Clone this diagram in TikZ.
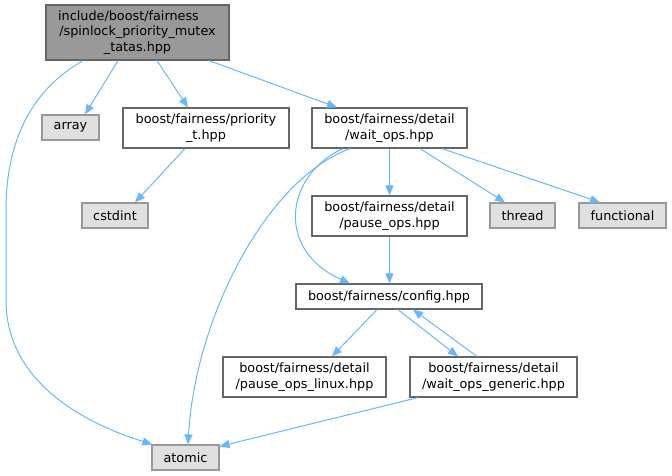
\documentclass[tikz,border=0pt]{standalone}
\usepackage{fontspec}
\setmainfont{DejaVu Sans}
\usetikzlibrary{arrows.meta}
\definecolor{edgeblue}{HTML}{63B8FF}
\definecolor{rootfill}{HTML}{999999}
\definecolor{rootdraw}{HTML}{666666}
\definecolor{sysfill}{HTML}{E0E0E0}
\definecolor{sysdraw}{HTML}{999999}
\definecolor{filedraw}{HTML}{666666}
\tikzset{
  box/.style={draw=filedraw, fill=white, line width=1.2pt, inner sep=0pt, align=center,
    font=\fontsize{12.8}{15.5}\selectfont},
  rootbox/.style={box, draw=rootdraw, fill=rootfill},
  sysbox/.style={box, draw=sysdraw, fill=sysfill},
  edge/.style={draw=edgeblue, line width=1pt, -{Triangle[length=10pt,width=8pt]}, fill=none},
}
\begin{document}
\begin{tikzpicture}[x=1pt,y=-1pt]
\useasboundingbox (0,0) rectangle (672,476);
\node[rootbox, minimum width=183pt, minimum height=55pt] (root) at (137.5,32.5)
  {include/boost/fairness\hspace*{18pt}\\/spinlock\_priority\_mutex\\\_tatas.hpp};
\node[sysbox, minimum width=57pt, minimum height=25pt] (array) at (70.5,127.5) {array};
\node[box, minimum width=166pt, minimum height=40pt] (prio) at (206,128)
  {boost/fairness/priority\\\_t.hpp};
\node[box, minimum width=155pt, minimum height=40pt] (wait) at (389.5,128)
  {boost/fairness/detail\\/wait\_ops.hpp};
\node[sysbox, minimum width=66pt, minimum height=25pt] (cstdint) at (115,215.5) {cstdint};
\node[box, minimum width=155pt, minimum height=40pt] (pause) at (389.5,216)
  {boost/fairness/detail\\/pause\_ops.hpp};
\node[sysbox, minimum width=65pt, minimum height=25pt] (thread) at (522.5,215.5) {thread};
\node[sysbox, minimum width=87pt, minimum height=25pt] (functional) at (622.5,215.5) {functional};
\node[box, minimum width=186pt, minimum height=25pt] (config) at (389,296.5)
  {boost/fairness/config.hpp};
\node[box, minimum width=163pt, minimum height=40pt] (linux) at (304.5,377)
  {boost/fairness/detail\\/pause\_ops\_linux.hpp};
\node[box, minimum width=167pt, minimum height=40pt] (generic) at (493.5,377)
  {boost/fairness/detail\\/wait\_ops\_generic.hpp};
\node[sysbox, minimum width=67pt, minimum height=25pt] (atomic) at (185.5,457.5) {atomic};

\draw[edge] ([xshift=-54.5pt]root.south) .. controls (40,85) and (6,130) .. (6,210)
  -- (6,300) .. controls (6,385) and (90,425) .. ([xshift=1pt]atomic.north west);
\draw[edge] ([xshift=-19.5pt]root.south) -- ([xshift=14.5pt]array.north);
\draw[edge] ([xshift=19.5pt]root.south) -- ([xshift=-18pt]prio.north);
\draw[edge] ([xshift=71.5pt]root.south) -- ([xshift=-52.5pt]wait.north);
\draw[edge] ([xshift=-21pt]prio.south) -- ([xshift=20pt]cstdint.north);
\draw[edge] (wait.south) -- (pause.north);
\draw[edge] ([xshift=30.5pt]wait.south) -- ([xshift=-17.5pt]thread.north);
\draw[edge] ([xshift=52.5pt]wait.south) -- ([xshift=-22.5pt]functional.north);
\draw[edge] ([xshift=-39.5pt]wait.south) .. controls (265,180) and (195,320) .. ([xshift=2.5pt]atomic.north);
\draw[edge] ([xshift=-46.5pt]wait.south) .. controls (285,175) and (275,250) .. ([xshift=-39pt]config.north);
\draw[edge] (pause.south) -- ([xshift=0.5pt]config.north);
\draw[edge] ([xshift=-12pt]config.south) -- ([xshift=27.5pt]linux.north);
\draw[edge] ([xshift=9pt]config.south) -- ([xshift=-35.5pt]generic.north);
\draw[edge] ([xshift=-16.5pt]generic.north) -- ([xshift=24pt]config.south);
\draw[edge] ([xshift=-75.5pt]generic.south) -- ([yshift=-2pt]atomic.north east);
\end{tikzpicture}
\end{document}
